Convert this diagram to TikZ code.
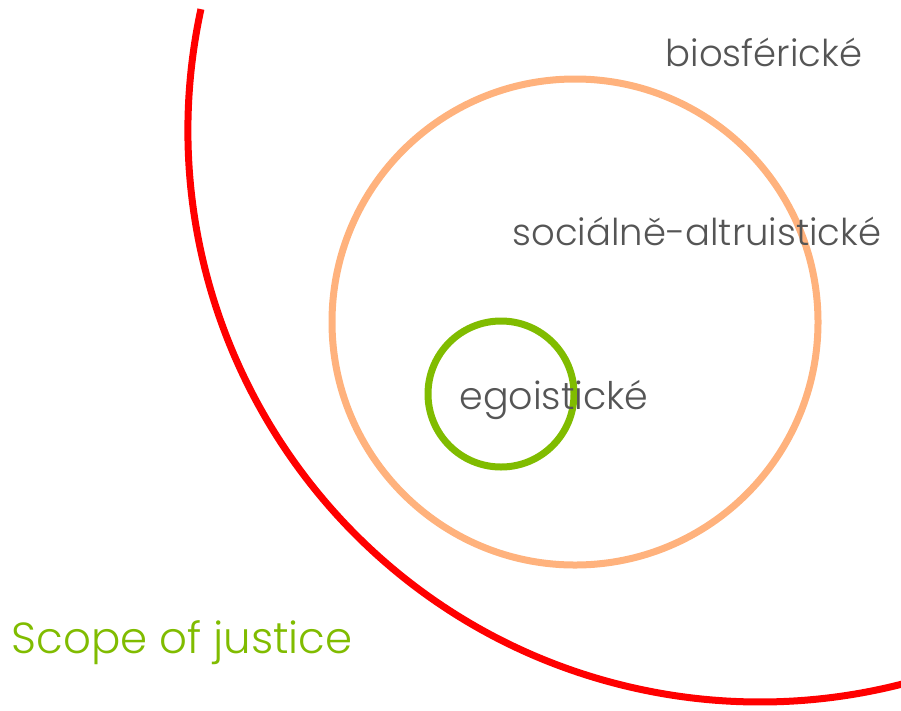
\documentclass[tikz,border=0pt]{standalone}
\usepackage{fontspec}
\setmainfont{Poppins}[UprightFont={* Light}]
\definecolor{redc}{RGB}{255,0,0}
\definecolor{orangec}{RGB}{255,178,125}
\definecolor{greenc}{RGB}{128,188,0}
\definecolor{textc}{RGB}{85,85,85}
\tikzset{
  ring/.style={line width=7pt},
  lbl/.style={text=textc, font=\fontsize{37}{44}\selectfont, inner sep=0pt},
}
\begin{document}
\begin{tikzpicture}[x=1pt,y=-1pt]
\useasboundingbox (0,0) rectangle (901,710);
\begin{scope}
\clip (0,0) rectangle (901,710);
\draw[ring, redc] (760,130) ++(192.2:572) arc[start angle=192.2, end angle=60, radius=572];
\end{scope}
\draw[ring, orangec] (575,322) circle[radius=243];
\draw[ring, greenc] (501,394) circle[radius=73];
\node[lbl] (bio) at (764,52) {biosférické};
\node[lbl] (soc) at (697,231) {sociálně-altruistické};
\node[lbl, font=\fontsize{38}{44}\selectfont] (ego) at (554,400) {egoistické};
\node[lbl, text=greenc, font=\fontsize{43.5}{50}\selectfont] (scope) at (182,643) {Scope of justice};
\end{tikzpicture}
\end{document}
